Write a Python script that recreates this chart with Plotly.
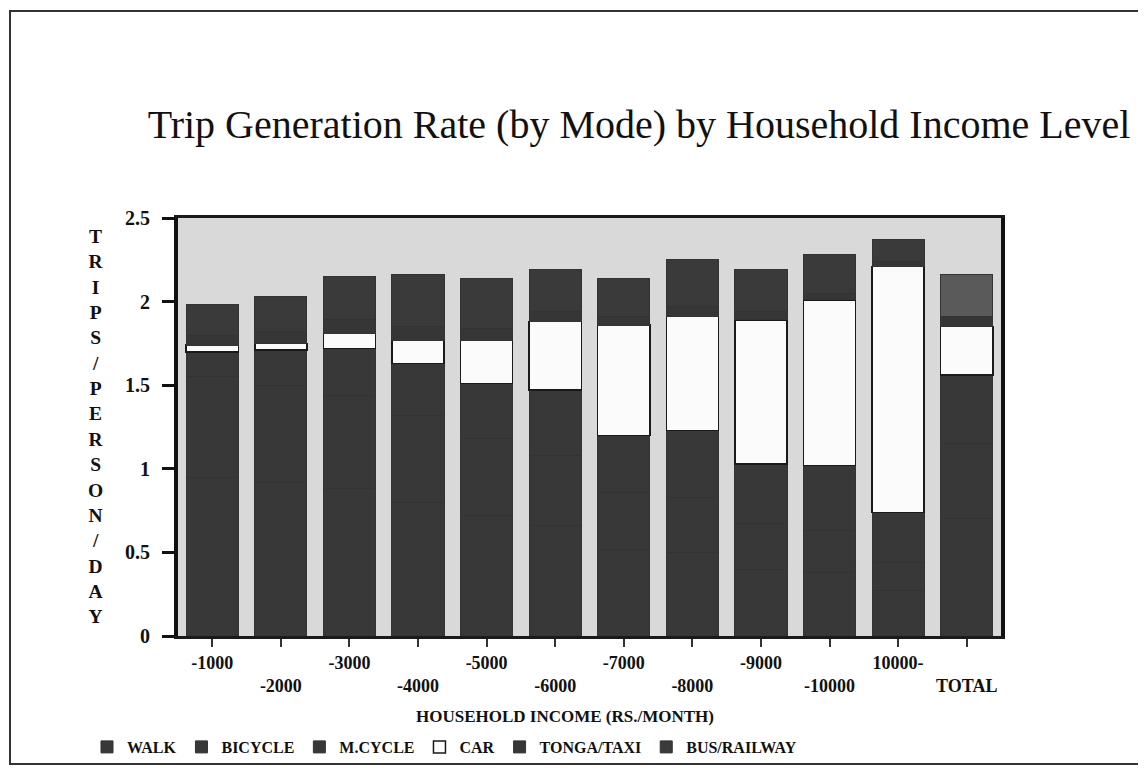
import plotly.graph_objects as go

categories = ["-1000", "-2000", "-3000", "-4000", "-5000", "-6000",
              "-7000", "-8000", "-9000", "-10000", "10000-", "TOTAL"]
tick_labels = ["-1000", " <br>-2000", "-3000", " <br>-4000", "-5000", " <br>-6000",
               "-7000", " <br>-8000", "-9000", " <br>-10000", "10000-", " <br>TOTAL"]

walk = [0.95, 0.92, 0.88, 0.80, 0.72, 0.66, 0.52, 0.50, 0.40, 0.38, 0.27, 0.70]
bicycle = [0.60, 0.58, 0.56, 0.52, 0.46, 0.42, 0.34, 0.33, 0.27, 0.25, 0.17, 0.45]
m_cycle = [0.15, 0.21, 0.28, 0.31, 0.33, 0.39, 0.34, 0.40, 0.36, 0.39, 0.30, 0.41]
car = [0.04, 0.04, 0.09, 0.14, 0.26, 0.41, 0.66, 0.68, 0.86, 0.99, 1.47, 0.29]
tonga_taxi = [0.06, 0.07, 0.08, 0.08, 0.07, 0.06, 0.05, 0.06, 0.05, 0.04, 0.03, 0.06]
bus_railway = [0.18, 0.21, 0.26, 0.31, 0.30, 0.25, 0.23, 0.28, 0.25, 0.23, 0.13, 0.25]

series = [
    ("WALK", walk, "#383838"),
    ("BICYCLE", bicycle, "#383838"),
    ("M.CYCLE", m_cycle, "#383838"),
    ("CAR", car, "#fbfbfb"),
    ("TONGA/TAXI", tonga_taxi, "#363636"),
    ("BUS/RAILWAY", bus_railway, ["#3a3a3a"] * 11 + ["#5a5a5a"]),
]

SERIF = "Liberation Serif"
OFF = 8  # default page body margin shifts the figure by this much
W, H = 1146 - OFF, 771 - OFF
L, T = 178 - OFF, 218 - OFF
PLOT_R, PLOT_B = 1001 - OFF, 636 - OFF
R, B = W - PLOT_R, H - PLOT_B
PW, PH = W - L - R, H - T - B

def px_x(x):
    return (x - OFF - L) / PW

def px_y(y):
    return (PLOT_B - (y - OFF)) / PH

fig = go.Figure()
for name, vals, col in series:
    is_car = name == "CAR"
    fig.add_trace(go.Bar(
        x=categories, y=vals, name=name,
        marker=dict(color=col,
                    line=dict(color="#1a1a1a" if is_car else "#333333",
                              width=1.5 if is_car else 1)),
    ))

fig.update_layout(
    width=W, height=H,
    barmode="stack", bargap=0.24,
    paper_bgcolor="white", plot_bgcolor="#d9d9d9",
    margin=dict(l=L, r=R, t=T, b=B, autoexpand=False),
    font=dict(family=SERIF, color="#111111"),
    title=dict(text="Trip Generation Rate (by Mode) by Household Income Level",
               font=dict(family=SERIF, size=40, color="#111111"),
               xref="container", yref="container",
               x=(639 - OFF) / W, xanchor="center", y=1 - (124 - OFF) / H, yanchor="middle"),
    xaxis=dict(tickmode="array", tickvals=categories, ticktext=tick_labels,
               ticks="outside", ticklen=8, tickwidth=1.5, tickcolor="#333",
               showline=True, linecolor="#1a1a1a", linewidth=3, mirror=True,
               showgrid=False,
               tickfont=dict(family=SERIF, size=18, weight="bold", color="#111")),
    yaxis=dict(range=[0, 2.5], tickvals=[0, 0.5, 1, 1.5, 2, 2.5],
               ticktext=["0", "0.5", "1", "1.5", "2", "2.5"],
               ticks="outside", ticklen=12, tickwidth=3, tickcolor="#111",
               ticklabelstandoff=8,
               showline=True, linecolor="#111", linewidth=4, mirror=True,
               showgrid=False, zeroline=False,
               tickfont=dict(family=SERIF, size=20, weight="bold", color="#111")),
    legend=dict(orientation="h", x=px_x(87), y=px_y(747), xanchor="left", yanchor="middle",
                font=dict(family=SERIF, size=16, weight="bold", color="#111"),
                traceorder="normal", itemwidth=30, bgcolor="rgba(0,0,0,0)"),
    showlegend=True,
)

ytitle = "<br>".join(list("TRIPS/PERSON/DAY"))
fig.add_annotation(text=ytitle, xref="paper", yref="paper",
                   x=px_x(96), y=px_y(426), xanchor="center", yanchor="middle",
                   showarrow=False, align="center",
                   font=dict(family=SERIF, size=19.5, weight="bold", color="#111"))
fig.add_annotation(text="HOUSEHOLD INCOME (RS./MONTH)", xref="paper", yref="paper",
                   x=px_x(565), y=px_y(716), xanchor="center", yanchor="middle",
                   showarrow=False,
                   font=dict(family=SERIF, size=17, weight="bold", color="#111"))

# page border of the scanned sheet
fig.add_shape(type="rect", xref="paper", yref="paper",
              x0=px_x(10), x1=px_x(1170), y0=px_y(764), y1=px_y(11),
              line=dict(color="#333", width=2), fillcolor="rgba(0,0,0,0)", layer="below")

fig.write_html("out.html")
